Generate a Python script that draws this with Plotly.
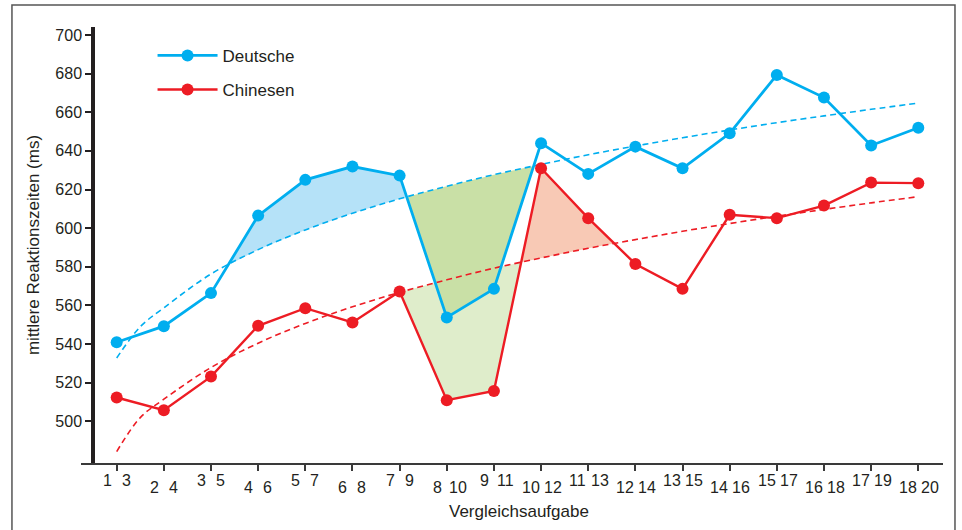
import plotly.graph_objects as go

# ---------------- data ----------------
tasks = list(range(1, 19))
deutsche_task_labels = [str(i) for i in range(1, 19)]
chinesen_task_labels = [str(i) for i in range(3, 21)]

deutsche = [541.0, 549.3, 566.4, 606.5, 625.0, 631.9, 627.2, 553.8, 568.6,
            644.0, 628.1, 642.2, 631.0, 649.1, 679.3, 667.6, 642.8, 652.0]
chinesen = [512.4, 505.8, 523.2, 549.5, 558.6, 551.2, 567.2, 511.0, 515.8,
            631.0, 605.2, 581.5, 568.6, 606.9, 605.2, 611.7, 623.6, 623.3]

# dashed trend curves
trend_x = [1, 1.5, 2, 3, 4, 5, 6, 7, 8, 9, 10, 11, 12, 13, 14, 15, 16, 17, 18]
trend_deutsche = [532.8, 549.0, 558.8, 576.3, 588.9, 599.1, 607.7, 615.2, 621.7,
                  627.7, 633.0, 638.0, 642.5, 646.8, 650.8, 654.6, 658.1, 661.5, 664.7]
trend_chinesen = [484.4, 502.0, 511.5, 527.9, 540.5, 550.7, 559.3, 566.8, 573.3,
                  579.3, 584.6, 589.6, 594.1, 598.4, 602.4, 606.2, 609.7, 613.1, 616.3]

y_ticks = [500, 520, 540, 560, 580, 600, 620, 640, 660, 680, 700]

# highlighted areas: (series, first segment, last segment) -> segments between tasks
highlights = [
    ("chinesen", 6, 8, "#dfedcb"),
    ("chinesen", 8, 10, "#f8c9b5"),
    ("deutsche", 2, 6, "#b5e2f8"),
    ("deutsche", 6, 8, "#c9e0a6"),
]

BLUE = "#00aeef"
RED = "#ed1c24"
TXT = "#231f20"
FONT = "Liberation Sans, Arial, Helvetica, sans-serif"


def at_tasks(trend):
    return [trend[trend_x.index(t)] for t in tasks]


series = {
    "deutsche": (deutsche, at_tasks(trend_deutsche)),
    "chinesen": (chinesen, at_tasks(trend_chinesen)),
}


def crossing(xs, line, trend, seg):
    d0 = line[seg] - trend[seg]
    d1 = line[seg + 1] - trend[seg + 1]
    t = d0 / (d0 - d1)
    return (xs[seg] + t * (xs[seg + 1] - xs[seg]),
            line[seg] + t * (line[seg + 1] - line[seg]))


def band(xs, line, trend, s0, s1):
    xa, ya = crossing(xs, line, trend, s0)
    xb, yb = crossing(xs, line, trend, s1)
    inner = list(range(s0 + 1, s1 + 1))
    px = [xa] + [xs[i] for i in inner] + [xb] + [xs[i] for i in reversed(inner)] + [xa]
    py = [ya] + [line[i] for i in inner] + [yb] + [trend[i] for i in reversed(inner)] + [ya]
    return px, py


fig = go.Figure()

for name, s0, s1, col in highlights:
    line, trend = series[name]
    px, py = band(tasks, line, trend, s0, s1)
    fig.add_trace(go.Scatter(x=px, y=py, mode="lines", fill="toself",
                             fillcolor=col, line=dict(width=0, color=col),
                             hoverinfo="skip", showlegend=False))

for trend, col in [(trend_deutsche, BLUE), (trend_chinesen, RED)]:
    fig.add_trace(go.Scatter(x=trend_x, y=trend, mode="lines",
                             line=dict(color=col, width=1.6, dash="6px,4px",
                                       shape="spline", smoothing=1.0),
                             hoverinfo="skip", showlegend=False))

fig.add_trace(go.Scatter(x=tasks, y=deutsche, mode="lines+markers", name="Deutsche",
                         legendgroup="d",
                         line=dict(color=BLUE, width=2.8),
                         marker=dict(color=BLUE, size=12)))
fig.add_trace(go.Scatter(x=tasks, y=chinesen, mode="lines+markers", name="Chinesen",
                         legendgroup="c",
                         line=dict(color=RED, width=2.4),
                         marker=dict(color=RED, size=12)))

# dual tick labels under the x axis
annotations = []
for i, (t, a, b) in enumerate(zip(tasks, deutsche_task_labels, chinesen_task_labels)):
    ys = -17 if i % 2 == 0 else -24
    annotations.append(dict(x=t, y=0, xref="x", yref="paper", text=a,
                            showarrow=False, xanchor="center", yanchor="middle",
                            xshift=-9.5 - (len(a) - 1) * 0.8, yshift=ys,
                            font=dict(size=16, color=TXT, family=FONT)))
    annotations.append(dict(x=t, y=0, xref="x", yref="paper", text=b,
                            showarrow=False, xanchor="center", yanchor="middle",
                            xshift=9.5 + (len(b) - 1) * 2.2, yshift=ys,
                            font=dict(size=16, color=TXT, family=FONT)))
annotations.append(dict(x=0.508, y=0, xref="paper", yref="paper", text="Vergleichsaufgabe",
                        showarrow=False, xanchor="center", yanchor="middle", yshift=-48,
                        font=dict(size=17, color=TXT, family=FONT)))

fig.update_layout(
    width=962, height=530,
    margin=dict(l=81, r=19, t=27, b=67, autoexpand=False),
    paper_bgcolor="white", plot_bgcolor="white",
    font=dict(family=FONT, color=TXT, size=16),
    xaxis=dict(range=[0.243, 18.524], showgrid=False, zeroline=False, automargin=False,
               showline=True, linecolor="#3a3a3a", linewidth=1.5,
               tickmode="array", tickvals=tasks, ticktext=[""] * len(tasks),
               ticks="outside", ticklen=6, tickwidth=1.5, tickcolor="#3a3a3a"),
    yaxis=dict(range=[478.5, 704.1], showgrid=False, zeroline=False, automargin=False,
               anchor="free", position=0.0139,
               showline=True, linecolor=TXT, linewidth=3.5,
               tickmode="array", tickvals=y_ticks,
               ticks="outside", ticklen=6, tickwidth=1.5, tickcolor=TXT,
               tickfont=dict(size=16, color=TXT),
               title=dict(text="mittlere Reaktionszeiten (ms)", standoff=10,
                          font=dict(size=17, color=TXT))),
    legend=dict(x=0.083, y=0.975, xanchor="left", yanchor="top",
                bgcolor="rgba(0,0,0,0)", font=dict(size=17, color=TXT),
                itemwidth=60, tracegroupgap=9, traceorder="grouped"),
    annotations=annotations,
    shapes=[dict(type="rect", xref="paper", yref="paper",
                 x0=-0.0801, x1=1.0139, y0=-0.2, y1=1.0505,
                 line=dict(color="#555555", width=1.5), layer="below")],
)

fig.write_html("out.html", config={"displayModeBar": False},
               post_script="document.body.style.margin='0px';document.body.style.overflow='hidden';")
